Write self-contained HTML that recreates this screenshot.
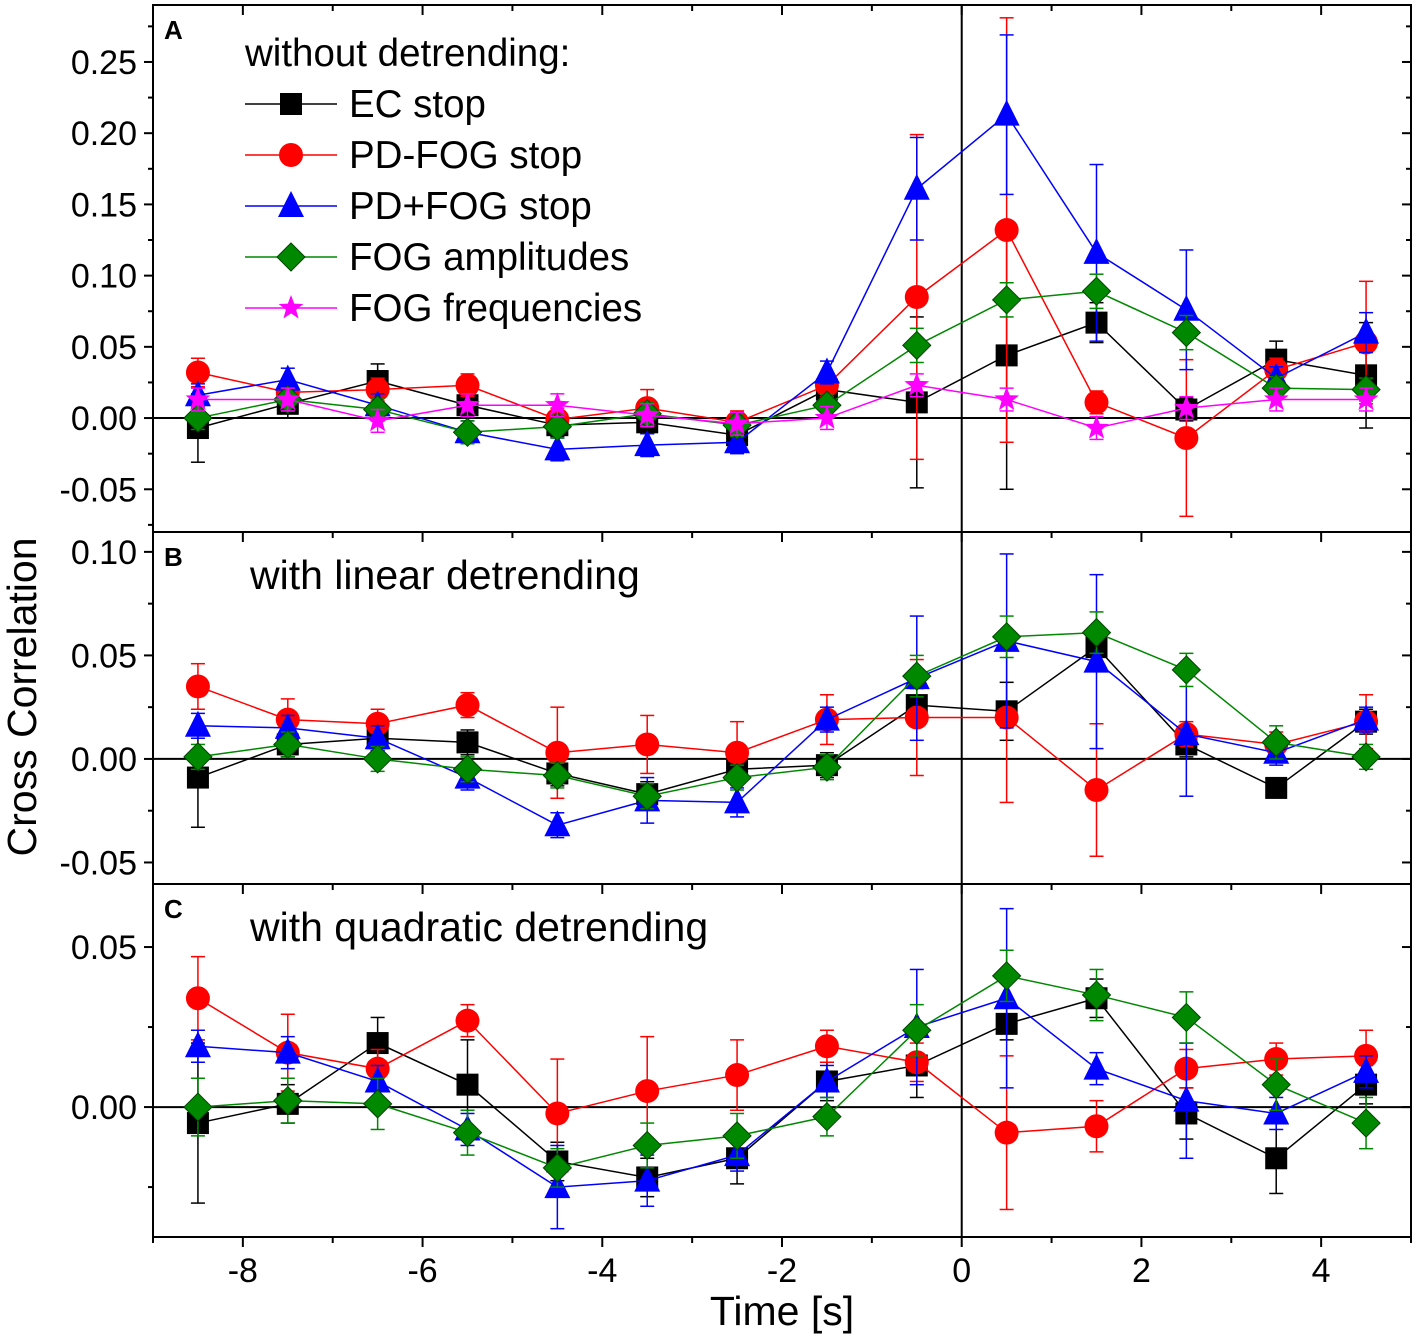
<!DOCTYPE html>
<html><head><meta charset="utf-8"><style>
body{margin:0;background:#fff}
svg{display:block;font-family:"Liberation Sans",Arial,sans-serif}
</style></head><body>
<svg id="c" width="1417" height="1337" viewBox="0 0 1417 1337"></svg>
<script>
const times=[-8.5,-7.5,-6.5,-5.5,-4.5,-3.5,-2.5,-1.5,-0.5,0.5,1.5,2.5,3.5,4.5];
const aEC=[-0.007,0.01,0.026,0.009,-0.005,-0.003,-0.012,0.02,0.011,0.044,0.067,0.006,0.041,0.03];
const aECerr=[0.024,0.01,0.012,0.008,0.008,0.008,0.008,0.008,0.06,0.094,0.014,0.008,0.013,0.037];
const aRed=[0.032,0.018,0.02,0.023,-0.001,0.007,-0.003,0.023,0.085,0.132,0.011,-0.014,0.034,0.053];
const aRederr=[0.01,0.008,0.008,0.008,0.008,0.013,0.008,0.008,0.114,0.149,0.008,0.055,0.008,0.043];
const aBlue=[0.016,0.027,0.009,-0.01,-0.022,-0.019,-0.017,0.032,0.161,0.213,0.116,0.076,0.028,0.06];
const aBlueerr=[0.008,0.008,0.008,0.008,0.008,0.008,0.008,0.008,0.036,0.056,0.062,0.042,0.008,0.014];
const aGreen=[0,0.013,0.006,-0.01,-0.006,0.003,-0.005,0.009,0.051,0.083,0.089,0.06,0.021,0.02];
const aGreenerr=[0.008,0.008,0.008,0.008,0.008,0.008,0.008,0.008,0.012,0.012,0.012,0.012,0.008,0.008];
const aMag=[0.013,0.013,-0.002,0.009,0.009,0.002,-0.004,0,0.023,0.013,-0.007,0.007,0.013,0.013];
const aMagerr=[0.008,0.008,0.008,0.008,0.008,0.008,0.008,0.008,0.008,0.008,0.008,0.008,0.008,0.008];
const bEC=[-0.009,0.007,0.01,0.008,-0.007,-0.017,-0.005,-0.003,0.026,0.023,0.054,0.007,-0.014,0.018];
const bECerr=[0.024,0.006,0.006,0.006,0.006,0.006,0.006,0.006,0.008,0.014,0.01,0.006,0.004,0.006];
const bRed=[0.035,0.019,0.017,0.026,0.003,0.007,0.003,0.019,0.02,0.02,-0.015,0.012,0.007,0.018];
const bRederr=[0.011,0.01,0.007,0.006,0.022,0.014,0.015,0.012,0.028,0.041,0.032,0.006,0.006,0.013];
const bBlue=[0.016,0.015,0.01,-0.009,-0.032,-0.02,-0.021,0.019,0.039,0.057,0.047,0.012,0.003,0.019];
const bBlueerr=[0.006,0.006,0.006,0.006,0.006,0.011,0.007,0.006,0.03,0.042,0.042,0.03,0.006,0.006];
const bGreen=[0.001,0.007,0,-0.005,-0.008,-0.018,-0.009,-0.004,0.04,0.059,0.061,0.043,0.008,0.001];
const bGreenerr=[0.006,0.006,0.006,0.006,0.006,0.006,0.006,0.006,0.01,0.01,0.01,0.008,0.008,0.006];
const cEC=[-0.005,0.001,0.02,0.007,-0.017,-0.022,-0.016,0.008,0.013,0.026,0.034,-0.002,-0.016,0.007];
const cECerr=[0.025,0.006,0.008,0.014,0.006,0.006,0.008,0.006,0.01,0.005,0.006,0.008,0.011,0.006];
const cRed=[0.034,0.017,0.012,0.027,-0.002,0.005,0.01,0.019,0.014,-0.008,-0.006,0.012,0.015,0.016];
const cRederr=[0.013,0.012,0.006,0.005,0.017,0.017,0.011,0.005,0.006,0.024,0.008,0.006,0.005,0.008];
const cBlue=[0.019,0.017,0.008,-0.007,-0.025,-0.023,-0.015,0.008,0.025,0.034,0.012,0.002,-0.002,0.011];
const cBlueerr=[0.005,0.005,0.005,0.005,0.013,0.008,0.005,0.005,0.018,0.028,0.005,0.018,0.005,0.005];
const cGreen=[0,0.002,0.001,-0.008,-0.019,-0.012,-0.009,-0.003,0.024,0.041,0.035,0.028,0.007,-0.005];
const cGreenerr=[0.009,0.007,0.008,0.007,0.006,0.007,0.007,0.006,0.008,0.008,0.008,0.008,0.008,0.008];
const yTicksA=[-0.05,0,0.05,0.1,0.15,0.2,0.25];
const yTicksB=[-0.05,0,0.05,0.1];
const yTicksC=[0,0.05];
const xTicks=[-8,-6,-4,-2,0,2,4];

const NS="http://www.w3.org/2000/svg";
const svg=document.getElementById('c');
function el(t,a,p){const e=document.createElementNS(NS,t);for(const k in a)e.setAttribute(k,a[k]);(p||svg).appendChild(e);return e;}
const L=153,R=1411;
const X=v=>L+(v+9)/14*(R-L);
const panels=[
 {top:5,bot:532,ymin:-0.08,ymax:0.29,ticks:yTicksA,letter:'A',series:[[aEC,aECerr,'#000','sq'],[aRed,aRederr,'#f00','ci'],[aBlue,aBlueerr,'#00f','tr'],[aGreen,aGreenerr,'#080','di'],[aMag,aMagerr,'#f0f','st']]},
 {top:532,bot:884,ymin:-0.0604,ymax:0.1096,ticks:yTicksB,letter:'B',title:'with linear detrending',series:[[bEC,bECerr,'#000','sq'],[bRed,bRederr,'#f00','ci'],[bBlue,bBlueerr,'#00f','tr'],[bGreen,bGreenerr,'#080','di']]},
 {top:884,bot:1237,ymin:-0.0406,ymax:0.0697,ticks:yTicksC,letter:'C',title:'with quadratic detrending',series:[[cEC,cECerr,'#000','sq'],[cRed,cRederr,'#f00','ci'],[cBlue,cBlueerr,'#00f','tr'],[cGreen,cGreenerr,'#080','di']]}
];
function marker(g,type,x,y,c,s){
 s=s||12;
 if(type==='sq')el('rect',{x:x-s+1,y:y-s+1,width:2*s-2,height:2*s-2,fill:c},g);
 else if(type==='ci')el('circle',{cx:x,cy:y,r:s,fill:c},g);
 else if(type==='tr')el('polygon',{points:`${x},${y-s-3} ${x+s+1},${y+s-1} ${x-s-1},${y+s-1}`,fill:c},g);
 else if(type==='di')el('polygon',{points:`${x},${y-s-2} ${x+s+2},${y} ${x},${y+s+2} ${x-s-2},${y}`,fill:c,stroke:'#040',"stroke-width":1},g);
 else if(type==='st'){let p=[];for(let i=0;i<10;i++){const r=i%2?s*0.45:s+1;const a=-Math.PI/2+i*Math.PI/5;p.push((x+r*Math.cos(a)).toFixed(1)+','+(y+r*Math.sin(a)).toFixed(1));}el('polygon',{points:p.join(' '),fill:c},g);}
}
panels.forEach((P,pi)=>{
 const Y=v=>P.bot-(v-P.ymin)/(P.ymax-P.ymin)*(P.bot-P.top);
 const g=el('g',{});
 
 
 P.ticks.forEach(t=>{const y=Y(t);
  el('line',{x1:L-9,x2:L,y1:y,y2:y,stroke:'#000','stroke-width':2},g);
  el('line',{x1:R-9,x2:R,y1:y,y2:y,stroke:'#000','stroke-width':2},g);
  const tx=el('text',{x:L-16,y:y+12,'text-anchor':'end','font-size':34},g);tx.textContent=t.toFixed(2);
  
 });
 for(let i=0;i<P.ticks.length;i++){const m=P.ticks[i]+(P.ticks[1]-P.ticks[0])/2;if(m<P.ymax){const y=Y(m);el('line',{x1:L-5,x2:L,y1:y,y2:y,stroke:'#000','stroke-width':2},g);el('line',{x1:R-5,x2:R,y1:y,y2:y,stroke:'#000','stroke-width':2},g);}}
 const fm=P.ticks[0]-(P.ticks[1]-P.ticks[0])/2;if(fm>P.ymin){const y=Y(fm);el('line',{x1:L-5,x2:L,y1:y,y2:y,stroke:'#000','stroke-width':2},g);}
 for(let v=-9;v<=5;v++){const x=X(v);const len=v%2===0?10:6;el('line',{x1:x,x2:x,y1:P.top,y2:P.top+len,stroke:'#000','stroke-width':2},g);}
 el('line',{x1:L,x2:R,y1:Y(0),y2:Y(0),stroke:'#000','stroke-width':2},g);
 el('line',{x1:X(0),x2:X(0),y1:P.top,y2:P.bot,stroke:'#000','stroke-width':2},g);
 el('rect',{x:L,y:P.top,width:R-L,height:P.bot-P.top,fill:'none',stroke:'#000','stroke-width':2},g);
 const lt=el('text',{x:164,y:P.top+34,'font-size':26,'font-weight':'bold'},g);lt.textContent=P.letter;
 
 if(P.title){const tt=el('text',{x:250,y:P.top+57,'font-size':41},g);tt.textContent=P.title;
  }
 P.series.forEach(([vals,errs,c,m],si)=>{
  const sg=el('g',{},g);
  
  
  el('polyline',{points:times.map((t,i)=>X(t)+','+Y(vals[i])).join(' '),fill:'none',stroke:c,'stroke-width':1.5},sg);
  times.forEach((t,i)=>{const x=X(t),y1=Y(vals[i]+errs[i]),y2=Y(vals[i]-errs[i]);
   el('line',{x1:x,x2:x,y1:y1,y2:y2,stroke:c,'stroke-width':1.5},sg);
   el('line',{x1:x-7,x2:x+7,y1:y1,y2:y1,stroke:c,'stroke-width':1.5},sg);
   el('line',{x1:x-7,x2:x+7,y1:y2,y2:y2,stroke:c,'stroke-width':1.5},sg);});
  times.forEach((t,i)=>marker(sg,m,X(t),Y(vals[i]),c));
 });
});
xTicks.forEach(v=>{const x=X(v);const t=el('text',{x:x,y:1282,'text-anchor':'middle','font-size':34});t.textContent=v;
 });
for(let v=-9;v<=5;v++){const x=X(v);el('line',{x1:x,x2:x,y1:1237,y2:1237+(v%2===0?10:6),stroke:'#000','stroke-width':2});}
const xt=el('text',{x:782,y:1325,'text-anchor':'middle','font-size':41});xt.textContent='Time [s]';

const yt=el('text',{x:0,y:0,'text-anchor':'middle','font-size':41,transform:'translate(36,697) rotate(-90)'});yt.textContent='Cross Correlation';

const lg=el('g',{});


const lh=el('text',{x:245,y:66,'font-size':38.5},lg);lh.textContent='without detrending:';
const legend=[['EC stop','#000','sq'],['PD-FOG stop','#f00','ci'],['PD+FOG stop','#00f','tr'],['FOG amplitudes','#080','di'],['FOG frequencies','#f0f','st']];
legend.forEach(([n,c,m],i)=>{const y=104+i*51;
 const eg=el('g',{},lg);
 
 
 el('line',{x1:245,x2:337,y1:y,y2:y,stroke:c,'stroke-width':1.5},eg);
 marker(eg,m,291,y,c);
 const t=el('text',{x:349,y:y+13,'font-size':38.5},eg);t.textContent=n;});
</script>
</body></html>
